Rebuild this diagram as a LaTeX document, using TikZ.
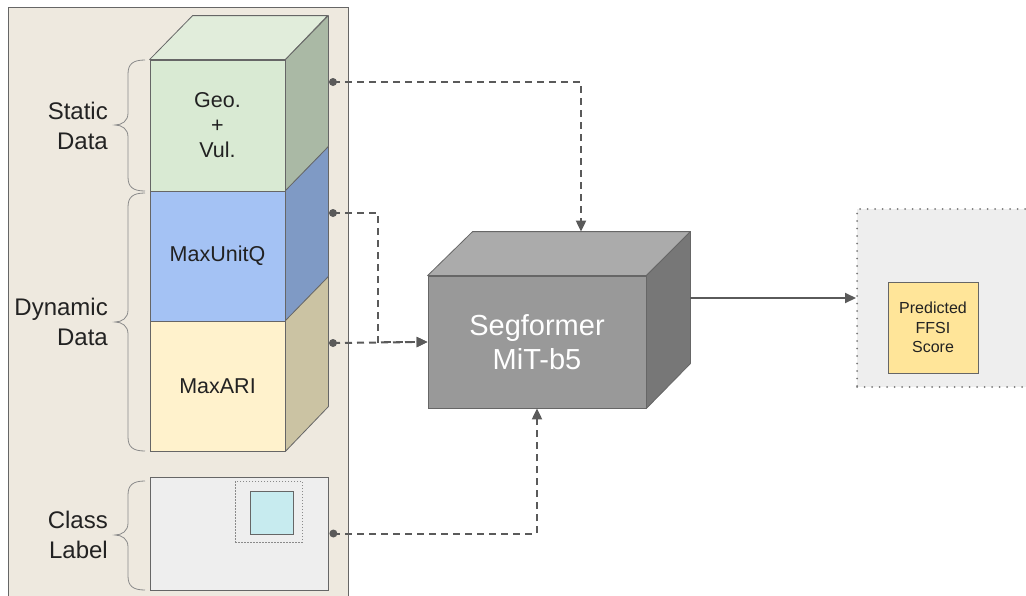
\documentclass[tikz,border=0pt]{standalone}
\usepackage{fontspec}
\setmainfont{Liberation Sans}
\usetikzlibrary{arrows.meta,calc}

\definecolor{panelbg}{HTML}{EEE9DF}
\definecolor{edgegray}{HTML}{666666}
\definecolor{conngray}{HTML}{5A5A5A}
\definecolor{bracegray}{HTML}{8A8A8A}
\definecolor{dotgray}{HTML}{7A7A7A}
\definecolor{txt}{HTML}{222222}
\definecolor{geofront}{HTML}{D9EAD3}
\definecolor{geotop}{HTML}{E1EDDB}
\definecolor{geoside}{HTML}{AAB9A5}
\definecolor{qfront}{HTML}{A4C2F4}
\definecolor{qside}{HTML}{7F9AC5}
\definecolor{arifront}{HTML}{FFF2CC}
\definecolor{ariside}{HTML}{CBC3A3}
\definecolor{segfront}{HTML}{999999}
\definecolor{segtop}{HTML}{ABABAB}
\definecolor{segside}{HTML}{777777}
\definecolor{lightbox}{HTML}{EEEEEE}
\definecolor{cyanbox}{HTML}{C7EBEF}
\definecolor{scorebox}{HTML}{FFE599}

% curly brace opening to the right: top y, bottom y, tip y
\newcommand\sidebrace[3]{%
  \draw[bracebg] (145,#1) .. controls (133,#1) and (128,#1+4) .. (128,#1+14)
    -- (128,#3-12) .. controls (128,#3-4) and (122,#3) .. (115,#3)
    .. controls (122,#3) and (128,#3+4) .. (128,#3+12)
    -- (128,#2-14) .. controls (128,#2-4) and (133,#2) .. (145,#2);}

\begin{document}
\begin{tikzpicture}[x=1pt,y=-1pt,
  bracebg/.style={draw=bracegray,line width=0.8pt},
  face/.style={draw=edgegray,line width=0.8pt,inner sep=0pt,align=center,
    text=txt,font=\fontsize{21.5}{25}\selectfont},
  facet/.style={draw=edgegray,line width=0.8pt,line join=round},
  sidelabel/.style={anchor=east,align=right,text=txt,inner sep=0pt,
    font=\fontsize{24}{30}\selectfont},
  conn/.style={draw=conngray,line width=2pt,dash pattern=on 7pt off 5pt,
    -{Triangle[length=11pt,width=10pt]}},
  solidconn/.style={draw=conngray,line width=2pt,
    -{Triangle[length=11pt,width=10pt]}},
  dot/.style={circle,fill=conngray,inner sep=0pt,minimum size=8pt}]

\useasboundingbox (0,0) rectangle (1026,595);
\clip (0,0) rectangle (1026,595);

% input panel
\draw[fill=panelbg,draw=edgegray,line width=0.8pt] (8,7) rectangle (348,620);

% stacked input cube: front faces
\node[face,fill=geofront,minimum width=135,minimum height=131] (geo) at (217.5,125.5) {Geo.\\+\\Vul.};
\node[face,fill=qfront,minimum width=135,minimum height=130] (unitq) at (217.5,256) {MaxUnitQ};
\node[face,fill=arifront,minimum width=135,minimum height=130] (ari) at (217.5,386) {MaxARI};

% stacked input cube: top and side faces
\filldraw[facet,fill=geotop] (geo.north west) -- ++(43,-44) -- ++(135,0) -- (geo.north east) -- cycle;
\filldraw[facet,fill=geoside] (geo.north east) -- ++(43,-44) -- ++(0,131) -- (geo.south east) -- cycle;
\filldraw[facet,fill=qside] (unitq.north east) -- ++(43,-44) -- ++(0,130) -- (unitq.south east) -- cycle;
\filldraw[facet,fill=ariside] (ari.north east) -- ++(43,-44) -- ++(0,130) -- (ari.south east) -- cycle;

% class label map
\node[face,fill=lightbox,minimum width=178,minimum height=113] (cls) at (239,533.5) {};
\node[draw=bracegray,line width=0.6pt,dash pattern=on 1.5pt off 1.5pt,inner sep=0pt,
  minimum width=67,minimum height=61] (roi) at (268.5,511.5) {};
\node[draw=edgegray,line width=0.8pt,fill=cyanbox,inner sep=0pt,
  minimum width=43,minimum height=43] (patch) at (271.5,512.5) {};

% braces and group labels
\sidebrace{60}{191}{125}
\sidebrace{193}{451}{322}
\sidebrace{481}{590}{535}
\node[sidelabel] (static) at (108,126) {Static\\Data};
\node[sidelabel] (dynamic) at (108,322) {Dynamic\\Data};
\node[sidelabel] (classlbl) at (108,535) {Class\\Label};

% model block
\node[face,fill=segfront,minimum width=218,minimum height=132,text=white,
  font=\fontsize{29}{34}\selectfont] (seg) at (537,342) {Segformer\\MiT-b5};
\filldraw[facet,fill=segtop] (seg.north west) -- ++(45,-44) -- ++(218,0) -- (seg.north east) -- cycle;
\filldraw[facet,fill=segside] (seg.north east) -- ++(44,-44) -- ++(0,132) -- (seg.south east) -- cycle;
\coordinate (segback) at ($(seg.north)+(44,-44)$);
\coordinate (segright) at ($(seg.east)+(44,-44)$);

% output panel
\node[draw=dotgray,fill=lightbox,line width=2pt,line cap=round,
  dash pattern=on 0pt off 7.5pt,inner sep=0pt,minimum width=190,minimum height=178] (out) at (952,298) {};
\node[draw=edgegray,line width=0.8pt,fill=scorebox,inner sep=0pt,minimum width=90,minimum height=91,
  align=center,text=txt,font=\fontsize{16}{19.5}\selectfont] (score) at (933,327.5) {Predicted\\FFSI\\Score};

% connectors
\node[dot] (d1) at (333,82) {};
\node[dot] (d2) at (333,213) {};
\node[dot] (d3) at (333,343) {};
\node[dot] (d4) at ($(cls.east)+(5,0)$) {};
\coordinate (bend2) at (378,213);

\draw[conn] (d1.center) -| (segback);
\draw[conn] (d2.center) -- (bend2) |- (seg.west);
\draw[conn] (d3.center) -- (seg.west);
\draw[conn] (d4.center) -| (seg.south);
\draw[solidconn] (segright) -- (out.west);
\end{tikzpicture}
\end{document}
